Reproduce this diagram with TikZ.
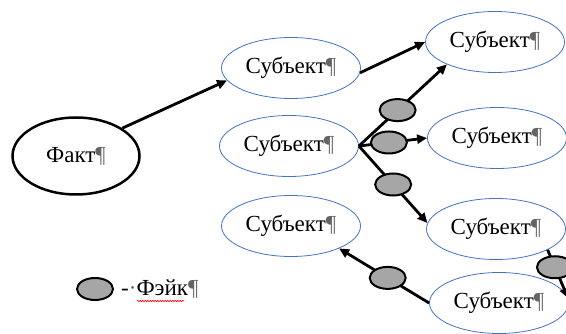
\documentclass[tikz,border=0pt]{standalone}
\usepackage{fontspec}
\setmainfont{Liberation Serif}
\usepackage{xcolor}
\definecolor{azulword}{RGB}{68,114,196}
\definecolor{grisfalso}{RGB}{166,166,166}
\definecolor{marcas}{RGB}{100,100,100}
\usepackage{tikz}
\usetikzlibrary{shapes, positioning, arrows.meta, decorations.pathmorphing}

\newcommand{\pmarca}{{\color{marcas}\P}}

\begin{document}
\begin{tikzpicture}[x=1pt,y=-1pt,
    sujeto/.style={ellipse, draw=azulword, line width=0.8pt, minimum width=139pt, minimum height=61pt, inner sep=0pt, font=\fontsize{23}{27}\selectfont},
    hecho/.style={ellipse, draw, line width=2.5pt, minimum width=127pt, minimum height=77pt, inner sep=0pt, font=\fontsize{23}{27}\selectfont},
    falso/.style={ellipse, draw, fill=grisfalso, line width=2pt, minimum width=36pt, minimum height=22pt, inner sep=0pt},
    flecha/.style={-{Triangle[length=10pt,width=9pt]}, line width=2.8pt}]
            \useasboundingbox (0,0) rectangle (566,334);

            % Hecho y sujetos
            \node[hecho] (fakt) at (76,156) {Факт\pmarca};
            \node[sujeto] (s1) at (291,68) {Субъект\pmarca};
            \node[sujeto] (s2) at (289,146) {Субъект\pmarca};
            \node[sujeto] (s3) at (495,42) {Субъект\pmarca};
            \node[sujeto] (s4) at (497,138) {Субъект\pmarca};
            \node[sujeto] (s5) at (496,229) {Субъект\pmarca};
            \node[sujeto] (s6) at (291,226) {Субъект\pmarca};
            \node[sujeto] (s7) at (499,303) {Субъект\pmarca};

            % Flechas
            \draw[flecha] (fakt.31) -- (s1.191);
            \draw[flecha] (s1.-4) -- (s3.west);
            \draw[flecha] (s2.east) -- node[falso, pos=0.44] (f1) {} (s3.205);
            \draw[flecha] (s2.east) -- node[falso, pos=0.44] (f2) {} (s4.west);
            \draw[flecha] (s2.east) -- node[falso, pos=0.5] (f3) {} (s5.175);
            \draw[flecha] (s5.-22) -- node[falso, pos=0.36] (f4) {} (s7.4);
            \draw[flecha] (s7.west) -- node[falso, pos=0.46] (f5) {} (s6.-25);

            % Leyenda
            \node[falso] (fleg) at (95,289) {};
            \node[anchor=west, inner sep=0pt, font=\fontsize{23}{27}\selectfont] (leyenda) at (121,289) {-{\color{marcas}·}Фэйк\pmarca};
            \draw[red, line width=0.6pt, decorate, decoration={snake, amplitude=0.7pt, segment length=2.5pt}] (137,301) -- (184,301);
        \end{tikzpicture}
\end{document}
